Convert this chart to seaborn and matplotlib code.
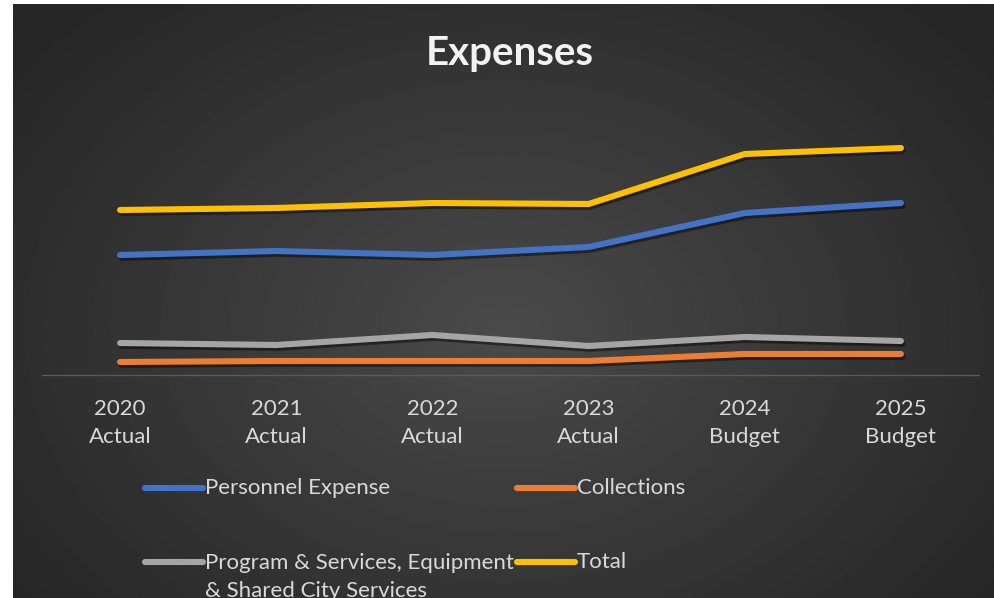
import numpy as np
import pandas as pd
import seaborn as sns
import matplotlib.pyplot as plt
import matplotlib.patheffects as pe
from matplotlib.lines import Line2D

# === data (units are arbitrary: $ hundred-thousands) ===
years = ["2020\nActual", "2021\nActual", "2022\nActual", "2023\nActual", "2024\nBudget", "2025\nBudget"]
personnel = [12.0, 12.4, 12.0, 12.8, 16.2, 17.2]
collections = [1.3, 1.4, 1.4, 1.4, 2.1, 2.1]
program = [3.2, 3.0, 4.0, 2.9, 3.8, 3.4]
total = [16.5, 16.7, 17.2, 17.1, 22.1, 22.7]

series_names = ["Personnel Expense", "Collections",
                "Program & Services, Equipment\n& Shared City Services", "Total"]
series_vals = [personnel, collections, program, total]
colors = ["#4472C4", "#ED7D31", "#A5A5A5", "#FFC000"]

df = pd.DataFrame({
    "year": years * len(series_names),
    "value": sum(series_vals, []),
    "series": np.repeat(series_names, len(years)),
})

sns.set_theme(style="white")
plt.rcParams["font.family"] = ["Lato", "DejaVu Sans"]

W, H = 994, 598
fig = plt.figure(figsize=(W / 100, H / 100), dpi=100, facecolor="white")

# === dark radial gradient background (white strip on left / top) ===
bg = fig.add_axes([13 / W, 0, 1 - 13 / W, 1 - 4 / H], zorder=0)
yy, xx = np.mgrid[0:1:300j, 0:1:500j]
r = np.sqrt(((xx - 0.5) / 0.62) ** 2 + ((yy - 0.55) / 0.75) ** 2)
r = np.clip(r, 0, 1)
shade = 0.29 - (0.29 - 0.15) * r
bg.imshow(shade, cmap="gray", vmin=0, vmax=1, aspect="auto", extent=(0, 1, 0, 1))
bg.axis("off")

# === line chart ===
ax = fig.add_axes([42 / W, (H - 375) / H, 937 / W, 285 / H], zorder=1)
ax.patch.set_alpha(0)
sns.lineplot(data=df, x="year", y="value", hue="series", palette=colors,
             hue_order=series_names, sort=False, legend=False, linewidth=4.4, ax=ax)
for ln in ax.lines:
    ln.set_solid_capstyle("round")
    ln.set_solid_joinstyle("round")
    ln.set_path_effects([pe.SimpleLineShadow(offset=(1.2, -2), shadow_color="black", alpha=0.45),
                         pe.Normal()])

ax.set_xlim(-0.5, len(years) - 0.5)
ax.set_ylim(0, 28.5)
ax.set_xlabel("")
ax.set_ylabel("")
ax.set_yticks([])
for s in ["top", "right", "left"]:
    ax.spines[s].set_visible(False)
ax.spines["bottom"].set_color("#5a5a5a")
ax.spines["bottom"].set_linewidth(1)
ax.tick_params(axis="x", length=0, pad=17, labelsize=16, labelcolor="#d9d9d9")
for t in ax.get_xticklabels():
    t.set_linespacing(1.5)

fig.text(510 / W, 1 - 53 / H, "Expenses", ha="center", va="center",
         fontsize=29, fontweight="bold", color="#f2f2f2")

# === legend, laid out like the Excel one ===
leg_pos = [(145, 488), (517, 488), (145, 562), (517, 562)]
for (px, py), name, c in zip(leg_pos, series_names, colors):
    yf = 1 - py / H
    fig.add_artist(Line2D([px / W, (px + 58) / W], [yf, yf], color=c, linewidth=4.4,
                          solid_capstyle="round", transform=fig.transFigure))
    if "\n" in name:
        fig.text((px + 60) / W, 1 - (py - 9) / H, name, ha="left", va="top",
                 fontsize=16, color="#d9d9d9", linespacing=1.5)
    else:
        fig.text((px + 60) / W, yf, name, ha="left", va="center",
                 fontsize=16, color="#d9d9d9")

fig.savefig("out.png", dpi=100, facecolor="white")
